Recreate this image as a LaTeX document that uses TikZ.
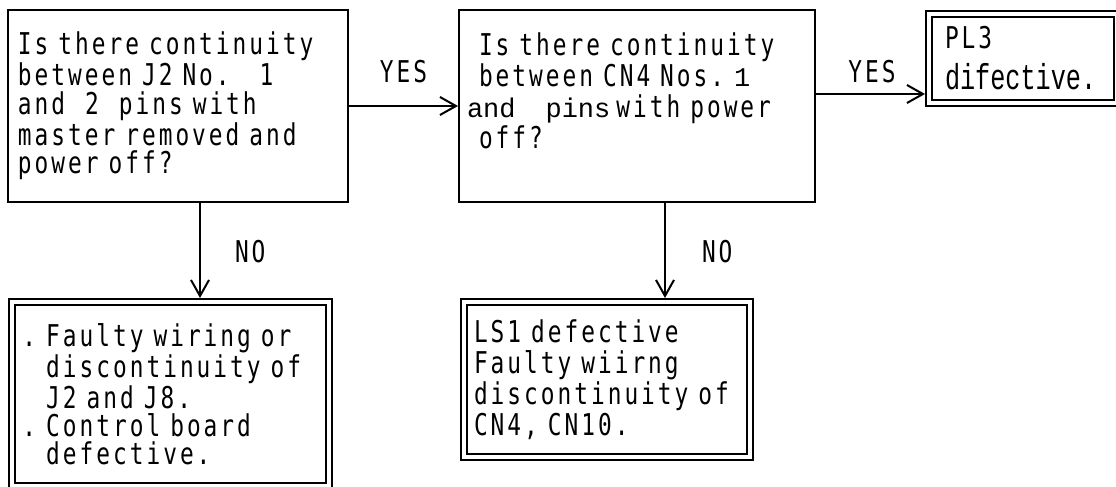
\documentclass[tikz,border=0pt]{standalone}
\usepackage{fontspec}
\setmonofont[FakeStretch=0.76,LetterSpace=10]{DejaVu Sans Mono}
\newfontfamily\typeserif{Liberation Mono}
\newfontfamily\typeseriftall[FakeStretch=0.7]{Liberation Mono}
\usetikzlibrary{arrows.meta,positioning}

% typewriter text: one full cell per space
\newcommand\typefont[1]{\ttfamily\fontsize{15pt}{#1}\selectfont\fontdimen2\font=8pt\spaceskip=8pt\relax}
% small serif typewriter pieces
\newcommand\tw[1]{{\typeserif\fontsize{13.5pt}{15.5pt}\selectfont #1}}
\frenchspacing

\begin{document}
\begin{tikzpicture}[
  node distance=49pt and 54.5pt,
  ask/.style={draw, line width=1pt, minimum height=96pt, inner ysep=0pt},
  fix/.style={draw, line width=1pt, double, double distance=2pt, inner ysep=0pt},
  arr/.style={-{Straight Barb[length=8pt,width=9pt]}, line width=1pt},
  tag/.style={inner sep=0pt, font=\typefont{14pt}}
]
\useasboundingbox (0,0) rectangle (558pt,-243.5pt);

% questions
\node[ask, text width=160pt, inner xsep=5pt, font=\typefont{14.2pt}] (q1) at (89pt,-53pt)
  {Is there continuity\\between J2 No.~~~1\\and~~2~~pins with\\master removed and\\power off?};
\node[ask, text width=158pt, inner xsep=10pt, font=\typefont{15.5pt}, right=of q1] (q2)
  {Is there continuity\\between CN4 Nos.~\tw{1}\\\hspace*{-6pt}\tw{and}\hspace{15pt}\tw{pins}\hspace{3pt}with power\\off?\\\mbox{}};

% results
\node[fix, text width=78pt, inner xsep=8pt, minimum height=44.5pt, font=\typefont{20.5pt},
      right=56pt of q2.north east, anchor=north west, yshift=-2pt] (pl3)
  {PL3\\{\typeseriftall\fontsize{18pt}{20.5pt}\selectfont difective.}};
\node[fix, text width=148pt, inner xsep=5.25pt, minimum height=92pt, font=\typefont{14pt},
      below=of q1.south west, anchor=north west, xshift=2pt] (wiring)
  {.~Faulty wiring or\\\phantom{.~}discontinuity of\\\phantom{.~}J2 and J8.\\.~Control board\\\phantom{.~}defective.};
\node[fix, text width=133pt, inner xsep=5pt, minimum height=77.5pt, font=\typefont{15.5pt},
      below=of q2.south west, anchor=north west, xshift=2.5pt] (ls1)
  {LS1 defective\\Faulty wiirng\\discontinuity of\\CN4, CN10.};

% connectors
\draw[arr] (q1) -- node[tag, above=11pt] {YES} (q2);
\draw[arr, shorten >=1.5pt] ([yshift=6pt]q2.east) -- node[tag, above=5.2pt] {YES} ([yshift=6pt]q2.east -| pl3.west);
\draw[arr, shorten >=1.5pt] ([xshift=11pt]q1.south) -- node[tag, right=17pt] {NO} ([xshift=11pt]q1.south |- wiring.north);
\draw[arr, shorten >=1.5pt] ([xshift=14pt]q2.south) -- node[tag, right=18pt] {NO} ([xshift=14pt]q2.south |- ls1.north);
\end{tikzpicture}
\end{document}
